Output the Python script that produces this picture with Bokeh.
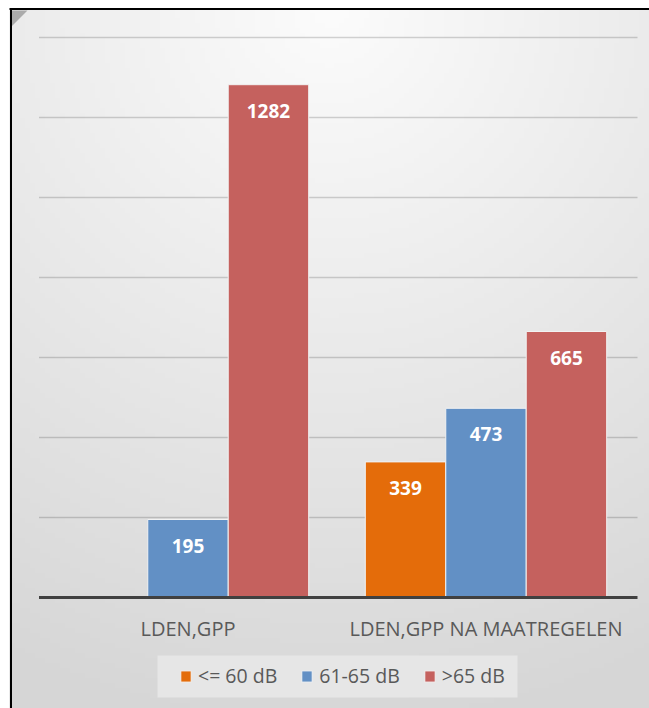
import numpy as np
from bokeh.plotting import figure
from bokeh.models import Range1d, ColumnDataSource, Legend, LegendItem, BoxAnnotation
from bokeh.core.properties import value
from bokeh.embed import file_html
from bokeh.resources import INLINE

# ---- data ----
categories = ["LDEN,GPP", "LDEN,GPP NA MAATREGELEN"]
series_names = ["<= 60 dB", "61-65 dB", ">65 dB"]
le_60 = [0, 339]
db_61_65 = [195, 473]
gt_65 = [1282, 665]
grid_ticks = [200, 400, 600, 800, 1000, 1200, 1400]
colors = ["#E46C0A", "#6290C5", "#C5615E"]

# ---- layout ----
W, H = 649, 708
PX_CAT = 298.0          # pixels per category
U_PX = 2.5              # data units per pixel
X0 = 38.5               # pixel of category-axis start
Y0 = 597                # pixel of baseline


def px_x(px):
    return (px - X0) / PX_CAT


def px_y(py):
    return (Y0 - py) * U_PX


x_start, x_end = px_x(0), px_x(W)
y_start, y_end = px_y(H), px_y(0)
bar_w = 0.27
offsets = [-bar_w, 0.0, bar_w]
FONT = "Open Sans"

p = figure(width=W, height=H, x_range=Range1d(x_start, x_end),
           y_range=Range1d(y_start, y_end), x_axis_type=None, y_axis_type=None,
           min_border=0, toolbar_location=None, output_backend="svg")
p.outline_line_color = None
p.background_fill_color = "white"
p.border_fill_color = "white"

# radial gradient background (chart area starts at pixel 9, 8)
gx0, gy0 = 9, 8
GW, GH = 128, 140
xs = gx0 + (np.arange(GW) + 0.5) / GW * (W - gx0)
ys_top = H - (np.arange(GH) + 0.5) / GH * (H - gy0)  # row 0 = bottom
XX, YY = np.meshgrid(xs, ys_top)
d = np.sqrt((XX - 330) ** 2 + (YY - gy0) ** 2)
g = np.clip(252 - 0.052 * d, 214, 252).astype(np.uint32)
img = (255 << 24) | (g << 16) | (g << 8) | g
p.image_rgba(image=[img.astype(np.uint32)], x=px_x(gx0), y=y_start,
             dw=x_end - px_x(gx0), dh=px_y(gy0) - y_start)

# corner accent
p.patch(x=[px_x(11), px_x(27), px_x(11)], y=[px_y(10), px_y(10), px_y(26)],
        fill_color="#ababab", line_color=None)

# gridlines
n = len(grid_ticks)
gx_end = px_x(637)
p.segment(x0=[0.0] * n, y0=grid_ticks, x1=[gx_end] * n, y1=grid_ticks,
          line_color="#000000", line_alpha=0.17, line_width=1.5)

# bars
series = [le_60, db_61_65, gt_65]
renderers = []
for k, (vals, col) in enumerate(zip(series, colors)):
    xpos = [i + 0.5 + offsets[k] for i in range(len(categories))]
    src = ColumnDataSource(dict(x=xpos, top=vals))
    r = p.vbar(x="x", top="top", bottom=0, width=bar_w, source=src,
               fill_color=col, line_color="#f2f2f2", line_width=1)
    renderers.append(r)
    lx = [x for x, v in zip(xpos, vals) if v > 0]
    lv = [v for v in vals if v > 0]
    p.text(x=lx, y=lv, text=[str(v) for v in lv], y_offset=26,
           text_align="center", text_baseline="middle",
           text_font=value(FONT), text_font_style="bold",
           text_font_size="19px", text_color="white")

# baseline
p.segment(x0=[0.0], y0=[0], x1=[gx_end], y1=[0], line_color="#404040", line_width=3)

# category labels
p.text(x=[i + 0.5 for i in range(len(categories))], y=[0] * len(categories),
       text=categories, y_offset=31, text_align="center", text_baseline="middle",
       text_font=value(FONT), text_font_size="20px", text_color="#595959")

# chart border (left and top)
p.segment(x0=[px_x(10.5), px_x(9)], y0=[px_y(8), px_y(8.5)],
          x1=[px_x(10.5), x_end], y1=[y_start, px_y(8.5)],
          line_color="black", line_width=2)

# legend box
p.add_layout(BoxAnnotation(left=px_x(157), right=px_x(517), top=px_y(655), bottom=px_y(697),
                           fill_color="#e6e6e6", fill_alpha=1, line_color=None))

legend = Legend(items=[LegendItem(label=s, renderers=[r]) for s, r in zip(series_names, renderers)],
                location=(179, 19), orientation="horizontal",
                background_fill_alpha=0, border_line_color=None,
                glyph_width=13, glyph_height=14,
                label_standoff=6, spacing=23, padding=10, margin=0,
                label_height=14, label_text_font=FONT, label_text_font_size="19.5px",
                label_text_color="#595959")
p.add_layout(legend)

open("out.html", "w").write(file_html(p, INLINE))
